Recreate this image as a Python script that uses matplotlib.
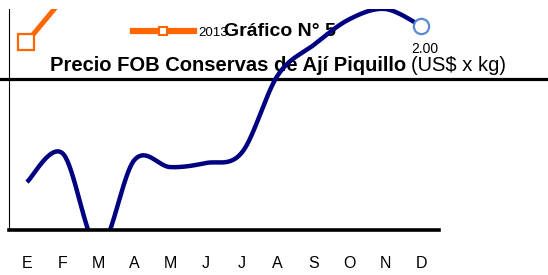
import numpy as np
import matplotlib
matplotlib.use("Agg")
import matplotlib.pyplot as plt
from matplotlib.lines import Line2D

plt.rcParams['font.family'] = ['Liberation Sans', 'DejaVu Sans']

# ---- data ----
months = ["E", "F", "M", "A", "M", "J", "J", "A", "S", "O", "N", "D"]
precio_actual = [1.541, 1.625, 1.347, 1.606, 1.585, 1.597, 1.628, 1.855, 1.944, 2.02, 2.05, 2.00]
precio_anterior = [1.953, 2.08, np.nan, np.nan, np.nan, np.nan, np.nan, np.nan, np.nan, np.nan, np.nan, np.nan]
legend_label = "2013"
title1 = "Gráfico N° 5"
title2_bold = "Precio FOB Conservas de Ají Piquillo"
title2_norm = "(US$ x kg)"
y_range = (1.4, 2.05)


def smooth(xs, ys, n=40):
    """Excel-like Catmull-Rom smoothing through the data points."""
    xs = np.asarray(xs, float)
    ys = np.asarray(ys, float)
    ok = ~np.isnan(ys)
    xs, ys = xs[ok], ys[ok]
    px = np.concatenate([[xs[0]], xs, [xs[-1]]])
    py = np.concatenate([[ys[0]], ys, [ys[-1]]])
    outx, outy = [], []
    t = np.linspace(0, 1, n)
    for i in range(1, len(px) - 2):
        p0, p1, p2, p3 = [np.array([px[j], py[j]]) for j in (i - 1, i, i + 1, i + 2)]
        c1 = p1 + (p2 - p0) / 6
        c2 = p2 - (p3 - p1) / 6
        b = ((1 - t) ** 3)[:, None] * p1 + (3 * (1 - t) ** 2 * t)[:, None] * c1 \
            + (3 * (1 - t) * t ** 2)[:, None] * c2 + (t ** 3)[:, None] * p2
        outx.extend(b[:, 0]); outy.extend(b[:, 1])
    return np.array(outx), np.array(outy)


W, H = 548, 275
fig = plt.figure(figsize=(W / 100, H / 100), dpi=100)
ax = fig.add_axes([9 / W, 45 / H, 430 / W, 221 / H])

x = np.arange(len(months))
ft = fig.transFigure

# titles (drawn beneath the data lines, as in the reference)
ax.text(280 / W, 1 - 36 / H, title1, transform=ft, ha='center', va='baseline',
        fontsize=14, fontweight='bold', zorder=2, clip_on=False)
ax.text(50 / W, 1 - 71 / H, title2_bold, transform=ft, ha='left', va='baseline',
        fontsize=14.5, fontweight='bold', zorder=2, clip_on=False)
ax.text(411 / W, 1 - 71 / H, title2_norm, transform=ft, ha='left', va='baseline',
        fontsize=14.5, zorder=2, clip_on=False)

# thick separator line across the figure
ax.add_artist(Line2D([0, 1], [1 - 78.5 / H] * 2, transform=ft, color='black',
                     lw=2.3, zorder=2.5, clip_on=False))

# blue series
sx, sy = smooth(x, precio_actual)
ax.plot(sx, sy, color='#000080', lw=3.2, solid_capstyle='butt', zorder=3)
ax.plot(x[-1], precio_actual[-1], marker='o', ms=11, mfc='white', mec='#5A8AD0',
        mew=1.6, ls='none', zorder=4, clip_on=False)
ax.annotate(f"{precio_actual[-1]:.2f}", (x[-1], precio_actual[-1]), xytext=(3, -16.5),
            textcoords='offset points', ha='center', va='center', fontsize=10, zorder=5)

# orange series
ox, oy = smooth(x, precio_anterior)
ax.plot(ox, oy, color='#FF6600', lw=3.6, zorder=3)
ax.plot(x[0] - 0.03, precio_anterior[0], marker='s', ms=11.5, mfc='white', mec='#FF6600',
        mew=1.6, ls='none', zorder=4)

ax.set_xlim(-0.5, len(months) - 0.5)
ax.set_ylim(*y_range)
ax.set_xticks(x)
ax.set_xticklabels(months, fontsize=11.5)
ax.tick_params(axis='x', length=0, pad=19)
ax.set_yticks([])
for s in ('top', 'right'):
    ax.spines[s].set_visible(False)
ax.spines['left'].set_linewidth(0.8)
ax.spines['bottom'].set_linewidth(2.6)
ax.spines['bottom'].set_zorder(6)

# legend
handle = Line2D([], [], color='#FF6600', lw=4.5, marker='s', ms=6, mfc='white',
                mec='#FF6600', mew=1.5)
leg = fig.legend([handle], [legend_label], loc='center left',
                 bbox_to_anchor=(133 / W, 1 - 33 / H), frameon=False, fontsize=9.5,
                 handlelength=4.6, handletextpad=0.35, borderpad=0, borderaxespad=0)
leg.set_zorder(1)

fig.savefig("out.png", dpi=100)
